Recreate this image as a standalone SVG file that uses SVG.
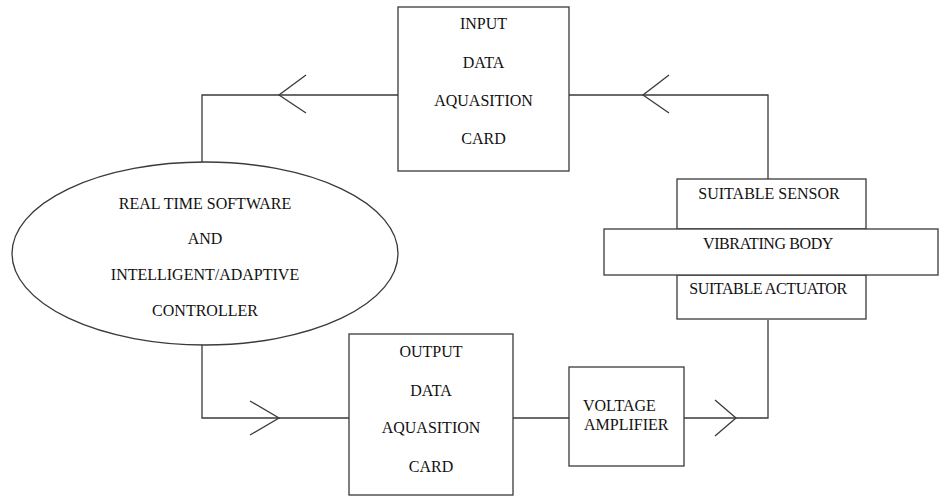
<svg xmlns="http://www.w3.org/2000/svg" width="940" height="497" viewBox="0 0 940 497">
  <style>
    .box { fill: #ffffff; stroke: #3a3a3a; stroke-width: 1.3; }
    .wire { fill: none; stroke: #3a3a3a; stroke-width: 1.3; }
    .lbl { font-family: "Liberation Serif", "Times New Roman", serif; font-size: 16px; fill: #111111; text-anchor: middle; }
    .lbl-l { font-family: "Liberation Serif", "Times New Roman", serif; font-size: 16px; fill: #111111; text-anchor: start; }
  </style>
  <rect width="940" height="497" fill="#ffffff"/>

  <!-- signal path -->
  <g id="connectors">
    <!-- sensor to input card -->
    <polyline class="wire" points="768,180 768,95 569,95"/>
    <polyline class="wire" points="669,75 643,95 669,113"/>
    <!-- input card to controller -->
    <polyline class="wire" points="398,95 202,95 202,162"/>
    <polyline class="wire" points="306,75 279,95 306,113"/>
    <!-- controller to output card -->
    <polyline class="wire" points="202,345 202,418 349,418"/>
    <polyline class="wire" points="250,401 279,418 250,435"/>
    <!-- output card to amplifier -->
    <line class="wire" x1="513" y1="418" x2="569" y2="418"/>
    <!-- amplifier to actuator -->
    <polyline class="wire" points="684,418 768,418 768,320"/>
    <polyline class="wire" points="715,400 736,418 715,436"/>
  </g>

  <g id="input-card">
    <rect class="box" x="398" y="7" width="171" height="164"/>
    <text class="lbl" x="483.5" y="29">INPUT</text>
    <text class="lbl" x="483.5" y="68">DATA</text>
    <text class="lbl" x="483.5" y="106">AQUASITION</text>
    <text class="lbl" x="483.5" y="144">CARD</text>
  </g>

  <g id="controller">
    <ellipse class="box" cx="205" cy="253.5" rx="193" ry="91.5"/>
    <text class="lbl" x="205" y="209">REAL TIME SOFTWARE</text>
    <text class="lbl" x="205" y="244">AND</text>
    <text class="lbl" x="205" y="280">INTELLIGENT/ADAPTIVE</text>
    <text class="lbl" x="205" y="316">CONTROLLER</text>
  </g>

  <g id="output-card">
    <rect class="box" x="349" y="334" width="164" height="161"/>
    <text class="lbl" x="431" y="357">OUTPUT</text>
    <text class="lbl" x="431" y="396">DATA</text>
    <text class="lbl" x="431" y="433">AQUASITION</text>
    <text class="lbl" x="431" y="472">CARD</text>
  </g>

  <g id="voltage-amplifier">
    <rect class="box" x="569" y="367" width="115" height="99"/>
    <text class="lbl-l" x="583" y="411">VOLTAGE</text>
    <text class="lbl-l" x="584" y="430">AMPLIFIER</text>
  </g>

  <g id="sensor">
    <rect class="box" x="677" y="179" width="189" height="50"/>
    <text class="lbl" x="769" y="199">SUITABLE SENSOR</text>
  </g>

  <g id="actuator">
    <rect class="box" x="677" y="275" width="189" height="44"/>
    <text class="lbl" x="768" y="294" letter-spacing="-0.4">SUITABLE ACTUATOR</text>
  </g>

  <g id="vibrating-body">
    <rect class="box" x="604" y="229" width="334" height="46"/>
    <text class="lbl" x="768" y="249" letter-spacing="-0.4">VIBRATING BODY</text>
  </g>
</svg>
